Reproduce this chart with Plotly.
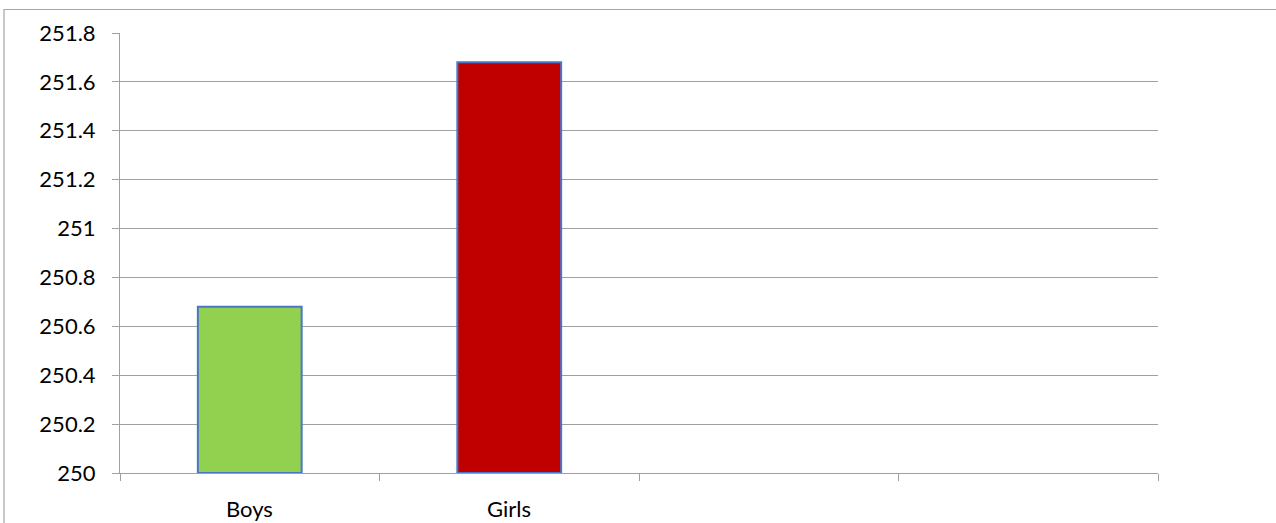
import plotly.graph_objects as go

categories = ["Boys", "Girls"]
values = [250.68, 251.68]
colors = ["#92D050", "#C00000"]
y_ticks = [250, 250.2, 250.4, 250.6, 250.8, 251, 251.2, 251.4, 251.6, 251.8]
y_ticktext = ["250", "250.2", "250.4", "250.6", "250.8", "251", "251.2", "251.4", "251.6", "251.8"]
n_slots = 4
baseline = 250

positions = [i + 0.5 for i in range(len(categories))]

fig = go.Figure()
fig.add_trace(go.Bar(
    x=positions,
    y=[v - baseline for v in values],
    base=baseline,
    width=0.4,
    marker=dict(color=colors, line=dict(color="#4A76C8", width=2)),
    hoverinfo="skip",
))

for p, c in zip(positions, categories):
    fig.add_annotation(x=p, y=0, xref="x", yref="paper", text=c, showarrow=False,
                       yanchor="top", yshift=-20, font=dict(family="Lato", size=22, color="black"))

L, R, T, B = 120, 118, 33, 50
W, H = 1276, 523
pw, ph = W - L - R, H - T - B
# outer chart border (only top and left visible)
fig.add_shape(type="rect", xref="paper", yref="paper",
              x0=(4 - L) / pw, x1=(W + 20 - L) / pw,
              y0=-(B + 20) / ph, y1=(H - B - 9.5) / ph,
              line=dict(color="#A6A6A6", width=1.2), fillcolor="rgba(0,0,0,0)", layer="below")

fig.update_layout(
    width=W, height=H,
    margin=dict(l=L, r=R, t=T, b=B),
    paper_bgcolor="white", plot_bgcolor="white",
    showlegend=False,
    font=dict(family="Lato", size=22, color="black"),
    xaxis=dict(range=[0, n_slots], tickvals=list(range(n_slots + 1)), ticktext=[""] * (n_slots + 1),
               ticks="outside", ticklen=7, tickcolor="#A0A0A0", tickwidth=1,
               showgrid=False, showline=True, linecolor="#A0A0A0", linewidth=1,
               zeroline=False, fixedrange=True),
    yaxis=dict(range=[250, 251.8], tickvals=y_ticks, ticktext=y_ticktext,
               ticks="outside", ticklen=7, tickcolor="#A0A0A0", tickwidth=1,
               showgrid=True, gridcolor="#A0A0A0", gridwidth=1,
               showline=True, linecolor="#A0A0A0", linewidth=1,
               zeroline=False, ticklabelstandoff=12,
               tickfont=dict(family="Lato", size=22, color="black")),
)

fig.write_html("out.html")
